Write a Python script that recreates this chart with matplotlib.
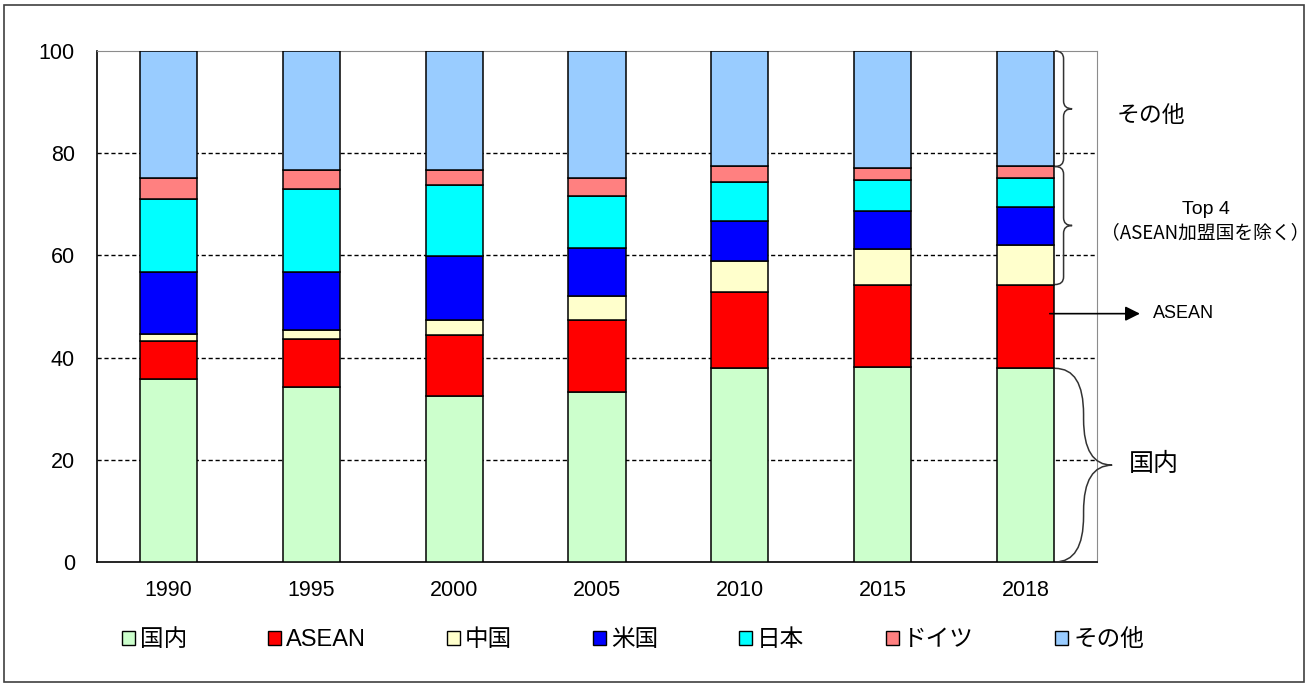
import matplotlib
matplotlib.use("Agg")
import matplotlib.pyplot as plt
import numpy as np
from matplotlib.patches import Patch, Rectangle, PathPatch
from matplotlib.path import Path

plt.rcParams['font.family'] = ['Liberation Sans', 'Noto Sans CJK JP', 'DejaVu Sans']

years = ['1990', '1995', '2000', '2005', '2010', '2015', '2018']
series = ['国内', 'ASEAN', '中国', '米国', '日本', 'ドイツ', 'その他']
colors = ['#CCFFCC', '#FF0000', '#FFFFCC', '#0000FF', '#00FFFF', '#FF8080', '#99CCFF']

domestic = [35.9, 34.3, 32.4, 33.2, 37.9, 38.2, 37.9]
asean = [7.3, 9.3, 12.0, 14.2, 15.0, 16.1, 16.4]
china = [1.4, 1.8, 3.0, 4.7, 6.0, 7.0, 7.7]
usa = [12.2, 11.4, 12.4, 9.3, 7.9, 7.3, 7.4]
japan = [14.3, 16.2, 14.0, 10.2, 7.5, 6.1, 5.7]
germany = [4.0, 3.7, 2.9, 3.5, 3.1, 2.4, 2.3]
others = [24.9, 23.3, 23.3, 24.9, 22.6, 22.9, 22.6]

values = np.array([domestic, asean, china, usa, japan, germany, others])

fig = plt.figure(figsize=(13.09, 6.86), dpi=100)
ax = fig.add_axes([97 / 1309, 1 - 562 / 686, 1000 / 1309, 511 / 686])

x = np.arange(len(years))
width = 0.4
bottom = np.zeros(len(years))
for vals, name, col in zip(values, series, colors):
    ax.bar(x, vals, width, bottom=bottom, color=col, edgecolor='black',
           linewidth=1.1, label=name, zorder=3)
    bottom += vals

ax.set_xlim(-0.5, len(years) - 0.5)
ax.set_ylim(0, 100)
ax.set_yticks([0, 20, 40, 60, 80, 100])
ax.set_xticks(x)
ax.set_xticklabels(years)
ax.tick_params(axis='both', length=0, labelsize=15.5)
ax.tick_params(axis='x', pad=13)
ax.tick_params(axis='y', pad=16)
for yv in [20, 40, 60, 80]:
    ax.axhline(yv, linestyle=(0, (3, 2)), color='black', linewidth=1, zorder=1)
for s in ['top', 'right']:
    ax.spines[s].set_color('#8c8c8c')
for s in ['left', 'bottom']:
    ax.spines[s].set_color('black')
    ax.spines[s].set_linewidth(1.2)


def brace(x0, y0, y1, w, r, ym=None):
    if ym is None:
        ym = (y0 + y1) / 2
    xm = x0 + w / 2
    verts = [(x0, y0), (xm, y0), (xm, y0 + r),
             (xm, ym - r),
             (xm, ym), (x0 + w, ym),
             (xm, ym), (xm, ym + r),
             (xm, y1 - r),
             (xm, y1), (x0, y1)]
    codes = [Path.MOVETO, Path.CURVE3, Path.CURVE3,
             Path.LINETO,
             Path.CURVE3, Path.CURVE3,
             Path.CURVE3, Path.CURVE3,
             Path.LINETO,
             Path.CURVE3, Path.CURVE3]
    ax.add_patch(PathPatch(Path(verts, codes), facecolor='none', edgecolor='#333333',
                           linewidth=1.1, clip_on=False, zorder=4))


cum = np.cumsum(values[:, -1])
xr = x[-1] + width / 2 + 0.006
brace(xr, cum[5], 100, 0.12, 1.5)
brace(xr, cum[1], cum[5], 0.12, 1.5)
brace(xr, 0, cum[0], 0.4, 9)

ya = (cum[0] + cum[1]) / 2 + 2.5
ax.annotate('', xy=(6.82, ya), xytext=(6.15, ya),
            arrowprops=dict(arrowstyle='-|>', color='black', lw=1.2, mutation_scale=22),
            annotation_clip=False, zorder=5)
ax.text(6.89, ya, 'ASEAN', fontsize=13, ha='left', va='center')
jp = ['Noto Sans CJK JP', 'DejaVu Sans']
ax.text(6.64, 87.3, 'その他', fontsize=16.5, ha='left', va='center', family=jp)
ax.text(7.26, 68.9, 'Top 4', fontsize=14, ha='center', va='center')
ax.text(7.26, 64.4, '（ASEAN加盟国を除く）', fontsize=13.5, ha='center', va='center', family=jp)
ax.text(6.72, 19.2, '国内', fontsize=18, ha='left', va='center', family=jp)

handles = [Patch(facecolor=c, edgecolor='black', linewidth=1) for c in colors]
fig.legend(handles, series, loc='center', ncol=7, mode='expand',
           bbox_to_anchor=(122 / 1309, 1 - 660 / 686, 1022 / 1309, 40 / 686),
           frameon=False, fontsize=17, handlelength=0.55, handleheight=0.55,
           handletextpad=0.2, borderpad=0, borderaxespad=0)

fig.patches.append(Rectangle((4 / 1309, 4 / 686), 1300 / 1309, 677 / 686,
                             transform=fig.transFigure, fill=False,
                             edgecolor='#404040', linewidth=1.2))

fig.savefig('out.png', dpi=100)
